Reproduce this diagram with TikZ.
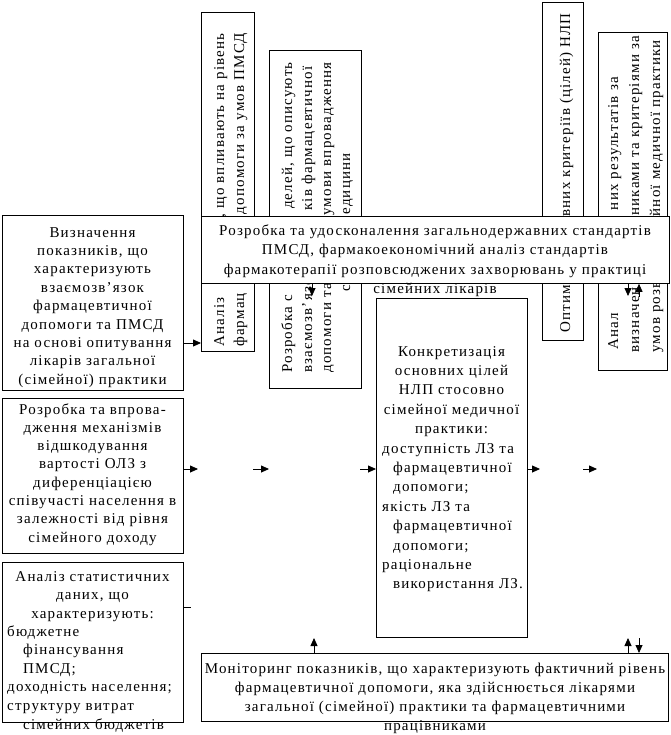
\documentclass[tikz,border=0pt]{standalone}
\usepackage{fontspec}
\setmainfont{Liberation Serif}[LetterSpace=8]
\usetikzlibrary{arrows.meta}
\begin{document}
\begin{tikzpicture}[x=1pt,y=-1pt,
  box/.style={draw, line width=0.8pt, fill=white, inner sep=0pt, anchor=north west},
  tc/.style={inner sep=0pt, text width=#1, align=center, anchor=base},
  tl/.style={inner sep=0pt, text width=#1, align=left, anchor=base west},
  rt/.style={inner sep=0pt, rotate=90, font=\fontsize{15}{18}\selectfont},
  arr/.style={-{Triangle[length=8pt,width=7pt]}, line width=0.8pt}]
\useasboundingbox (0,0) rectangle (670,735);

% vertical boxes (behind the wide box)
\node[box, minimum width=53pt, minimum height=339pt] (D) at (201,12) {};
\node[rt, anchor=base west] (d1a) at (224,347) {Аналіз};
\node[rt, anchor=base east] (d1b) at (224,33) {, що впливають на рівень};
\node[rt, anchor=base west] (d2a) at (244,347) {фармац};
\node[rt, anchor=base east] (d2b) at (244,33) {допомоги за умов ПМСД};

\node[box, minimum width=92pt, minimum height=338pt] (F) at (269,50) {};
\node[rt, anchor=base west] (f1a) at (292,373) {Розробка с};
\node[rt, anchor=base east] (f1b) at (292,62) {делей, що описують};
\node[rt, anchor=base west] (f2a) at (312,373) {взаємозв’язо};
\node[rt, anchor=base east] (f2b) at (312,66) {ків фармацевтичної};
\node[rt, anchor=base west] (f3a) at (331,373) {допомоги та};
\node[rt, anchor=base east] (f3b) at (331,62) {умови впровадження};
\node[rt, anchor=base west] (f4a) at (350,292) {с};
\node[rt, anchor=base east] (f4b) at (350,153) {едицини};

\node[box, minimum width=41pt, minimum height=338pt] (H) at (542,2) {};
\node[rt, anchor=base west] (h1a) at (570,333) {Оптим};
\node[rt, anchor=base east] (h1b) at (570,13) {овних критеріїв (цілей) НЛП};

\node[box, minimum width=69pt, minimum height=338pt] (I) at (598,32) {};
\node[rt, anchor=base west] (i1a) at (618,350) {Анал};
\node[rt, anchor=base east] (i1b) at (618,77) {них результатів за};
\node[rt, anchor=base west] (i2a) at (639,353) {визначен};
\node[rt, anchor=base east] (i2b) at (639,36) {никами та критеріями за};
\node[rt, anchor=base west] (i3a) at (660,353) {умов розв};
\node[rt, anchor=base east] (i3b) at (660,40) {йної медичної практики};

% wide top box
\node[box, minimum width=468pt, minimum height=67pt] (E) at (201,216) {};
\node[tc=470pt, font=\fontsize{15}{19.5}\selectfont] (Et) at (435,235)
  {Розробка та удосконалення загальнодержавних стандартів\\ПМСД, фармакоекономічний аналіз стандартів\\фармакотерапії розповсюджених захворювань у практиці\\сімейних лікарів};

% left column
\node[box, minimum width=181pt, minimum height=175pt] (A) at (2,215) {};
\node[tc=178pt, font=\fontsize{15}{18.4}\selectfont] (At) at (92.5,237)
  {Визначення\\показників, що\\характеризують\\взаємозв’язок\\фармацевтичної\\допомоги та ПМСД\\на основі опитування\\лікарів загальної\\(сімейної) практики};

\node[box, minimum width=181pt, minimum height=155pt] (B) at (2,398) {};
\node[tc=180pt, font=\fontsize{15}{18.3}\selectfont] (Bt) at (92.5,414)
  {Розробка та впрова-\\дження механізмів\\відшкодування\\вартості ОЛЗ з\\диференціацією\\співучасті населення в\\залежності від рівня\\сімейного доходу};

\node[box, minimum width=181pt, minimum height=160pt] (C) at (2,562) {};
\node[tc=180pt, font=\fontsize{15}{18.5}\selectfont] (Ct) at (92.5,581)
  {Аналіз статистичних\\даних, що\\характеризують:};
\node[tl=220pt, font=\fontsize{15}{18.5}\selectfont] (Cl) at (7,636)
  {бюджетне\\\hspace*{16pt}фінансування\\\hspace*{16pt}ПМСД;\\доходність населення;\\структуру витрат\\[1pt]\hspace*{16pt}сімейних бюджетів};

% centre box
\node[box, minimum width=151pt, minimum height=339pt] (G) at (376,298) {};
\node[tc=150pt, font=\fontsize{15}{19.4}\selectfont] (Gt) at (451.5,356)
  {Конкретизація\\основних цілей\\НЛП стосовно\\сімейної медичної\\практики:};
\node[tl=200pt, font=\fontsize{15}{19.4}\selectfont] (Gl) at (382,453)
  {доступність ЛЗ та\\\hspace*{11pt}фармацевтичної\\\hspace*{11pt}допомоги;\\якість ЛЗ та\\\hspace*{11pt}фармацевтичної\\\hspace*{11pt}допомоги;\\раціональне\\\hspace*{11pt}використання ЛЗ.};

% bottom box
\node[box, minimum width=467pt, minimum height=68pt] (J) at (201,653) {};
\node[tc=470pt, font=\fontsize{15}{19.2}\selectfont] (Jt) at (435,673)
  {Моніторинг показників, що характеризують фактичний рівень\\фармацевтичної допомоги, яка здійснюється лікарями\\загальної (сімейної) практики та фармацевтичними\\працівниками};

% helper coordinates
\coordinate (ya) at (0,343);
\coordinate (yh) at (0,469);
\coordinate (yc) at (0,607);
\coordinate (s1) at (253,469);
\coordinate (s2) at (360,469);
\coordinate (s3) at (540,469);
\coordinate (s4) at (583,469);
\coordinate (s5) at (597,469);
\coordinate (e1) at (312,296);
\coordinate (e2) at (628,296);
\coordinate (e3) at (639,297);
\coordinate (j1) at (314,638);
\coordinate (j2) at (628,638);
\coordinate (j3) at (639,638);

% connectors
\draw[arr] (A.east |- ya) -- (D.west |- ya);
\draw[arr] (B.east |- yh) -- (198,469);
\draw[arr] (s1) -- (F.west |- yh);
\draw[arr] (s2) -- (G.west |- yh);
\draw[arr] (G.east |- yh) -- (s3);
\draw[arr] (s4) -- (s5);
\draw[line width=0.8pt] (C.east |- yc) -- ++(7,0);
\draw[arr] (E.south -| e1) -- (e1);
\draw[arr] (E.south -| e2) -- (e2);
\draw[arr] (e3) -- (E.south -| e3);
\draw[arr] (J.north -| j1) -- (j1);
\draw[arr] (J.north -| j2) -- (j2);
\draw[arr] (j3) -- (J.north -| j3);
\end{tikzpicture}
\end{document}
